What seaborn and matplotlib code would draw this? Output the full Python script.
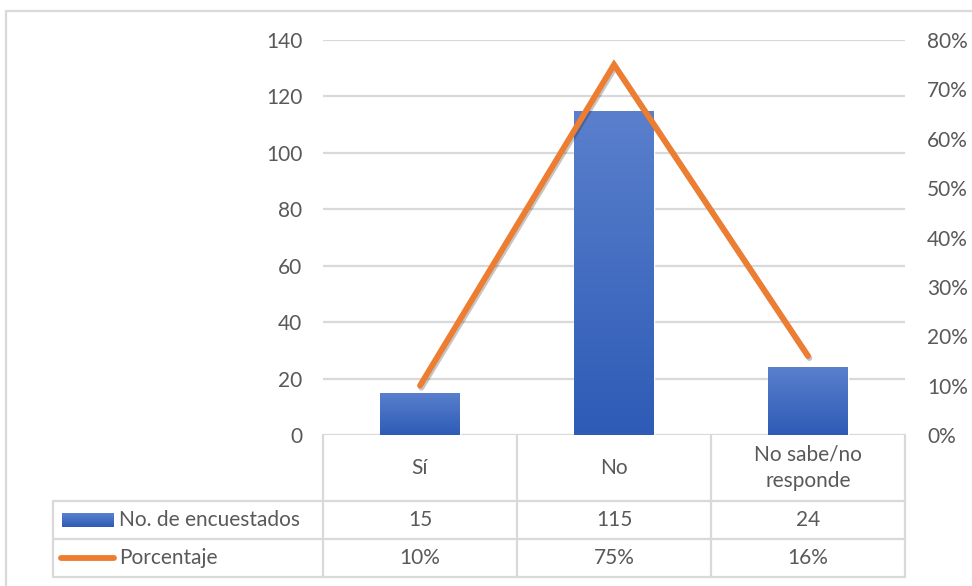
import numpy as np
import pandas as pd
import matplotlib
matplotlib.use("Agg")
import matplotlib.pyplot as plt
import matplotlib.patheffects as pe
from matplotlib.lines import Line2D
from matplotlib.colors import LinearSegmentedColormap
from matplotlib.ticker import FuncFormatter, MultipleLocator
import matplotlib.transforms as mtransforms
import seaborn as sns

# --- data -------------------------------------------------------------
categorias = ["Sí", "No", "No sabe/no\nresponde"]
encuestados = [15, 115, 24]
porcentaje = [0.10, 0.75, 0.16]
serie_barras = "No. de encuestados"
serie_linea = "Porcentaje"

# --- style ------------------------------------------------------------
W, H = 972, 586
DPI = 100
TXT = "#595959"
GRID = "#D9D9D9"
ORANGE = "#ED7D31"
BLUE_TOP = "#5A80CD"
BLUE_BOT = "#2E5BB6"
FS = 15

sns.set_theme(style="white")
plt.rcParams["font.family"] = ["Lato", "DejaVu Sans"]
plt.rcParams["text.color"] = TXT

fig = plt.figure(figsize=(W / DPI, H / DPI), dpi=DPI)


def fx(x):
    return x / W


def fy(y):
    return 1 - y / H


ax = fig.add_axes([fx(323), fy(435), fx(905) - fx(323), fy(40) - fy(435)])

df = pd.DataFrame({"categoria": categorias, "n": encuestados, "pct": porcentaje})

sns.barplot(data=df, x="categoria", y="n", ax=ax, color=BLUE_BOT, width=0.41,
            saturation=1, zorder=3)
ax.set_xlim(-0.5, 2.5)
ax.set_ylim(0, 140)
ax.yaxis.set_major_locator(MultipleLocator(20))
ax.grid(axis="y", color=GRID, linewidth=1.6, zorder=0)
ax.set_axisbelow(True)
ax.set_xlabel("")
ax.set_ylabel("")
ax.set_xticks([])
ax.tick_params(axis="y", length=0, pad=15, labelsize=FS, labelcolor=TXT)
for s in ax.spines.values():
    s.set_visible(False)

# vertical gradient on each bar, with a soft shadow
grad_cmap = LinearSegmentedColormap.from_list("barra", [BLUE_BOT, BLUE_TOP])
grad = np.linspace(0, 1, 256).reshape(-1, 1)
for p in ax.patches:
    x0, y0 = p.get_x(), p.get_y()
    w, h = p.get_width(), p.get_height()
    p.set_path_effects([pe.SimplePatchShadow(offset=(0, -1.5), shadow_rgbFace="#000000",
                                              alpha=0.25), pe.Normal()])
    im = ax.imshow(grad, cmap=grad_cmap, origin="lower", aspect="auto",
                   extent=(x0, x0 + w, y0, y0 + h), zorder=3.5,
                   interpolation="bicubic")
    im.set_clip_path(p)
ax.set_xlim(-0.5, 2.5)
ax.set_ylim(0, 140)

# percentage line on the secondary axis
ax2 = ax.twinx()
sns.lineplot(x=np.arange(len(categorias)), y=df["pct"], ax=ax2, color=ORANGE,
             linewidth=4.2, zorder=5, sort=False)
ln = ax2.lines[0]
ln.set_solid_capstyle("round")
ln.set_solid_joinstyle("miter")
ln.set_path_effects([pe.SimpleLineShadow(offset=(1, -1.5), alpha=0.25), pe.Normal()])
ax2.set_ylim(0, 0.8)
ax2.yaxis.set_major_locator(MultipleLocator(0.1))
ax2.yaxis.set_major_formatter(FuncFormatter(lambda v, _: f"{v * 100:.0f}%"))
ax2.tick_params(axis="y", length=0, pad=16, labelsize=FS, labelcolor=TXT)
ax2.set_ylabel("")
ax2.grid(False)
for s in ax2.spines.values():
    s.set_visible(False)
ax2.set_xlim(-0.5, 2.5)

# --- data table below the plot -----------------------------------------
tr = mtransforms.blended_transform_factory(ax.transData, fig.transFigure)
tf = fig.transFigure
lw = 1.6
y_top, y_r1, y_r2, y_bot = fy(435), fy(501), fy(539), fy(577)

# horizontal rules
for yy in (y_r1, y_r2, y_bot):
    fig.add_artist(Line2D([fx(53), fx(905)], [yy, yy], transform=tf, color=GRID, lw=lw))
# vertical rules at column edges
for xb in np.arange(len(categorias) + 1) - 0.5:
    fig.add_artist(Line2D([xb, xb], [y_top, y_bot], transform=tr, color=GRID, lw=lw))
fig.add_artist(Line2D([fx(53), fx(53)], [y_r1, y_bot], transform=tf, color=GRID, lw=lw))

# cell texts
for i, cat in enumerate(categorias):
    fig.text(i, fy(468), cat, transform=tr, ha="center", va="center",
             fontsize=FS, color=TXT, linespacing=1.4)
    fig.text(i, fy(520), f"{encuestados[i]}", transform=tr, ha="center",
             va="center", fontsize=FS, color=TXT)
    fig.text(i, fy(558), f"{porcentaje[i] * 100:.0f}%", transform=tr,
             ha="center", va="center", fontsize=FS, color=TXT)

# legend keys and series names
key_grad = fig.add_axes([fx(62), fy(527), fx(114) - fx(62), fy(513) - fy(527)])
key_grad.imshow(grad, cmap=grad_cmap, origin="lower", aspect="auto",
                interpolation="bicubic")
key_grad.set_axis_off()
fig.add_artist(Line2D([fx(61), fx(114)], [fy(558), fy(558)], transform=tf,
                      color=ORANGE, lw=4.2, solid_capstyle="round"))
fig.text(fx(119), fy(520), serie_barras, ha="left", va="center", fontsize=FS, color=TXT)
fig.text(fx(119), fy(558), serie_linea, ha="left", va="center", fontsize=FS, color=TXT)

# chart frame (top and left edges visible)
fig.add_artist(Line2D([fx(6), fx(6), 1.0], [0.0, fy(11), fy(11)], transform=tf,
                      color=GRID, lw=1.6))

fig.savefig("out.png", dpi=DPI, facecolor="white")
